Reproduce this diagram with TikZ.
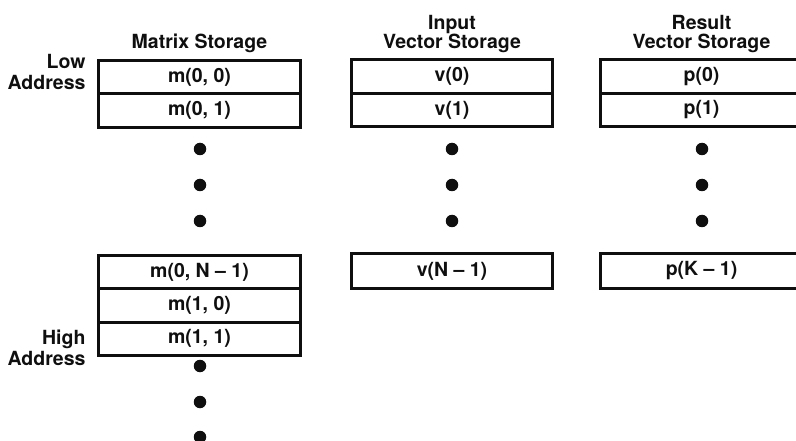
\documentclass[tikz,border=0pt]{standalone}
\usepackage{fontspec}
\setmainfont{TeX Gyre Heros}
\usepackage{tikz}
\usetikzlibrary{positioning}
\definecolor{myink}{RGB}{15,15,15}
\tikzset{
  cell/.style={rectangle, draw=myink, line width=1.4pt,
    minimum width=200pt, minimum height=32pt, inner sep=0pt,
    font=\fontsize{19.5}{21}\selectfont\bfseries, text=myink},
  border/.style={draw=myink, line width=3pt},
  dot/.style={circle, fill=myink, minimum size=12.5pt, inner sep=0pt},
  heading/.style={align=center, text=myink,
    font=\fontsize{19.5}{19}\selectfont\bfseries},
  addr/.style={align=right, anchor=east, text=myink,
    font=\fontsize{19.5}{21}\selectfont\bfseries}
}

\begin{document}
\begin{tikzpicture}[x=1pt, y=1pt]
  \clip (0, 0) rectangle (796, -441);

  % Matrix storage column
  \node[heading] (mhead) at (199.5, -43) {Matrix Storage};
  \node[cell] (m00) at (199.5, -77) {m(0, 0)};
  \node[cell, below=0pt of m00] (m01) {m(0, 1)};
  \draw[border] (m00.north west) rectangle (m01.south east);
  \node[dot] (mdot1) at (200, -149) {};
  \node[dot] (mdot2) at (200, -185) {};
  \node[dot] (mdot3) at (200, -221) {};
  \node[cell] (m0n) at (199.5, -272) {m(0, N -- 1)};
  \node[cell, below=0pt of m0n] (m10) {m(1, 0)};
  \node[cell, below=0pt of m10] (m11) {m(1, 1)};
  \draw[border] (m0n.north west) rectangle (m11.south east);
  \node[dot] (mdot4) at (200, -366) {};
  \node[dot] (mdot5) at (200, -402) {};
  \node[dot] (mdot6) at (200, -437) {};

  % Address labels
  \node[addr] (low) at (89, -71.5) {Low\\Address};
  \node[addr] (high) at (89, -347.5) {High\\Address};

  % Input vector storage column
  \node[heading] (vhead) at (452, -34.5) {Input\\Vector Storage};
  \node[cell] (v0) at (452, -76.5) {v(0)};
  \node[cell, below=0pt of v0] (v1) {v(1)};
  \draw[border] (v0.north west) rectangle (v1.south east);
  \node[dot] (vdot1) at (452, -149) {};
  \node[dot] (vdot2) at (452, -185) {};
  \node[dot] (vdot3) at (452, -221) {};
  \node[cell, minimum height=34pt] (vn) at (452, -271) {v(N -- 1)};
  \draw[border] (vn.north west) rectangle (vn.south east);

  % Result vector storage column
  \node[heading] (phead) at (701.5, -34.5) {Result\\Vector Storage};
  \node[cell] (p0) at (701.5, -76.5) {p(0)};
  \node[cell, below=0pt of p0] (p1) {p(1)};
  \draw[border] (p0.north west) rectangle (p1.south east);
  \node[dot] (pdot1) at (702, -149) {};
  \node[dot] (pdot2) at (702, -185) {};
  \node[dot] (pdot3) at (702, -221) {};
  \node[cell, minimum height=34pt] (pk) at (701.5, -271) {p(K -- 1)};
  \draw[border] (pk.north west) rectangle (pk.south east);
\end{tikzpicture}
\end{document}
